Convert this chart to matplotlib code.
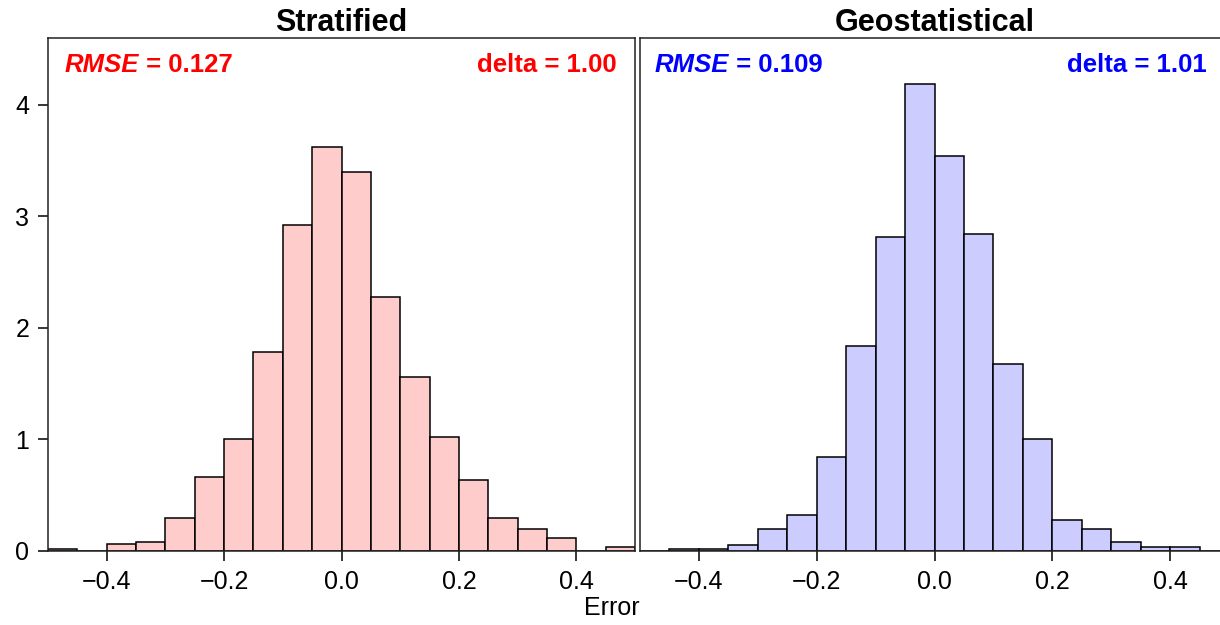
import numpy as np
import matplotlib.pyplot as plt

plt.rcParams['font.family'] = ['Liberation Sans', 'DejaVu Sans']

# bin edges shared by both histograms (width 0.05)
edges = np.linspace(-0.5, 0.5, 21)

# densities
strat_density = [0.015, 0.0, 0.06, 0.08, 0.30, 0.66, 1.00, 1.78, 2.92, 3.62,
                 3.40, 2.28, 1.56, 1.02, 0.64, 0.30, 0.20, 0.12, 0.0, 0.04]
geo_density = [0.0, 0.015, 0.015, 0.057, 0.20, 0.32, 0.84, 1.84, 2.82, 4.19,
               3.54, 2.84, 1.68, 1.00, 0.28, 0.20, 0.078, 0.04, 0.04, 0.0]

titles = ["Stratified", "Geostatistical"]
rmse_labels = ["0.127", "0.109"]
delta_labels = ["1.00", "1.01"]
xticks = [-0.4, -0.2, 0.0, 0.2, 0.4]
yticks = [0, 1, 2, 3, 4]

fill_colors = ["#FFCCCC", "#CCCCFF"]
text_colors = ["#FF0000", "#0000FF"]

fig = plt.figure(figsize=(12.2, 6.25), dpi=100)
ax1 = fig.add_axes([48 / 1220, 74 / 625, 587 / 1220, 513 / 625])
ax2 = fig.add_axes([640 / 1220, 74 / 625, 589 / 1220, 513 / 625])

panels = [(ax1, strat_density), (ax2, geo_density)]
rmse_x = [17 / 587, 15 / 589]
delta_x = [569 / 587, 567 / 589]

for i, (ax, dens) in enumerate(panels):
    lefts = edges[:-1]
    ax.bar(lefts, dens, width=np.diff(edges), align='edge',
           color=fill_colors[i], edgecolor='black', linewidth=1.1)
    ax.set_xlim(-0.5, 0.5)
    ax.set_ylim(0, 4.6)
    ax.set_xticks(xticks)
    ax.set_xticklabels([("%.1f" % t).replace("-", "\u2212") for t in xticks])
    ax.tick_params(axis='both', direction='out', length=7.5, width=1.1,
                   labelsize=18, pad=6, color='black')
    for s in ax.spines.values():
        s.set_linewidth(1.1)
        s.set_color('#222222')
    if i == 0:
        ax.set_yticks(yticks)
    else:
        ax.set_yticks([])
    ax.set_title(titles[i], fontsize=22, fontweight='bold', pad=3.5)

    t1 = ax.text(rmse_x[i], 0.934, "RMSE", transform=ax.transAxes,
                 fontsize=18.5, fontweight='bold', fontstyle='italic',
                 color=text_colors[i], ha='left', va='baseline')
    ax.annotate(" = " + rmse_labels[i], xy=(1, 0), xycoords=t1,
                fontsize=18.5, fontweight='bold', color=text_colors[i],
                ha='left', va='bottom')
    ax.text(delta_x[i], 0.934, "delta = " + delta_labels[i],
            transform=ax.transAxes, fontsize=18.5, fontweight='bold',
            color=text_colors[i], ha='right', va='baseline')

fig.text(0.5016, 0.027, "Error", fontsize=18, ha='center', va='center')

fig.savefig("out.png", dpi=100)
